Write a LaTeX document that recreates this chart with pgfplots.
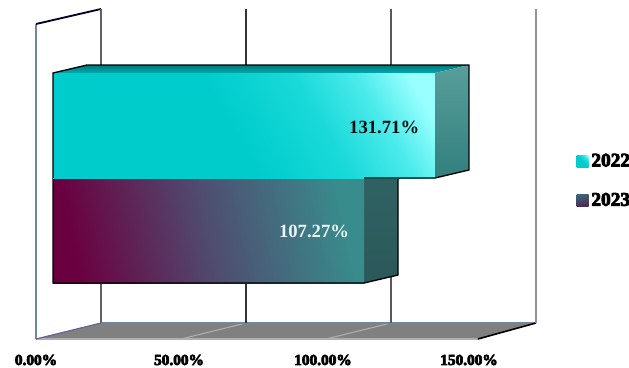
\documentclass[border=0pt]{standalone}
\usepackage{fontspec}
\usepackage{pgfplots}
\pgfplotsset{compat=1.18}
\newfontfamily\valfont{Liberation Serif Bold}
\newfontfamily\heavyfont[FakeBold=4.5]{Liberation Serif Bold}

% Face shadings for the two pseudo-3D bars
\pgfdeclarehorizontalshading{frontA}{100bp}{rgb(0bp)=(0,.80,.80);rgb(25bp)=(0,.80,.80);rgb(48bp)=(0,.80,.80);rgb(62bp)=(.10,.85,.85);rgb(72bp)=(.30,.92,.92);rgb(80bp)=(.60,1,1);rgb(100bp)=(.62,1,1)}
\pgfdeclarehorizontalshading{frontB}{100bp}{rgb(0bp)=(.42,0,.25);rgb(25bp)=(.42,0,.25);rgb(50bp)=(.31,.30,.44);rgb(75bp)=(.22,.55,.55);rgb(100bp)=(.22,.55,.55)}
\pgfdeclareverticalshading{topA}{100bp}{rgb(0bp)=(0,.78,.78);rgb(100bp)=(0,.36,.38)}
\pgfdeclareverticalshading{sideA}{100bp}{rgb(0bp)=(.12,.44,.44);rgb(100bp)=(.42,.68,.66)}
\pgfdeclareverticalshading{sideB}{100bp}{rgb(0bp)=(.16,.33,.34);rgb(100bp)=(.20,.40,.40)}
\pgfdeclareverticalshading{keyB}{100bp}{rgb(0bp)=(.32,.05,.25);rgb(100bp)=(.22,.50,.55)}

\definecolor{wallblue}{RGB}{110,135,165}
\definecolor{floorgray}{RGB}{128,128,128}
\definecolor{floorline}{RGB}{175,175,175}

\begin{document}
\begin{tikzpicture}
\begin{axis}[
  scale only axis, width=471.75pt, height=276pt,
  xmin=-18.276, xmax=198.62, ymin=0, ymax=368, y dir=reverse,
  axis line style={draw=none}, tick style={draw=none}, ytick=\empty,
  clip=false,
  xtick={-5.86,43.45,93.1,143.45},
  xticklabels={0.00\%,50.00\%,100.00\%,150.00\%},
  xticklabel pos=lower,
  xticklabel style={font=\heavyfont\fontsize{11.5}{12}\selectfont, anchor=center, yshift=6pt},
  legend style={at={(axis cs:180.6,151)}, anchor=north west, draw=none, fill=none,
    inner sep=0pt, outer sep=0pt, row sep=14.3pt,
    font=\heavyfont\fontsize{14.5}{14}\selectfont},
  legend cell align=left, reverse legend,
]
% floor and its depth lines
\addplot[forget plot, fill=floorgray, draw=none] coordinates {(-5.86,339)(16.55,323)(166.55,323)(146.5,339)} --cycle;
\addplot[forget plot, draw=floorline, line width=.8pt] coordinates {(-5.86,339)(146.5,339)};
\addplot[forget plot, draw=floorline, line width=.8pt] coordinates {(66.55,323)(44.14,339)};
\addplot[forget plot, draw=floorline, line width=.8pt] coordinates {(116.55,323)(94.14,339)};
% walls
\addplot[forget plot, draw=wallblue, line width=.8pt] coordinates {(-5.86,339)(-5.86,24)};
\addplot[forget plot, draw=wallblue, line width=1.2pt] coordinates {(16.55,323)(166.55,323)};
\addplot[forget plot, draw=black!70!blue!60!white, line width=.9pt] coordinates {(-5.86,339)(16.55,323)};
\addplot[forget plot, draw=black!85!blue, line width=1.4pt] coordinates {(-5.86,24)(16.55,9)};
\addplot[forget plot, draw=black, line width=1.2pt] coordinates {(146.5,339)(166.55,323)};
% value gridlines
\addplot[forget plot, draw=black!62, line width=1.9pt] coordinates {(16.55,9)(16.55,323)};
\addplot[forget plot, draw=black!80, line width=1.7pt] coordinates {(66.55,9)(66.55,323)};
\addplot[forget plot, draw=black!65, line width=1.7pt] coordinates {(116.55,9)(116.55,323)};
\addplot[forget plot, draw=black!42, line width=1.5pt] coordinates {(166.55,9)(166.55,323)};
% bar for 2023
\addplot[forget plot, shading=sideB, draw=none] coordinates {(107.27,178)(118.99,178)(118.99,275)(107.27,283)} --cycle;
\addplot[shading=frontB, shading angle=12, draw=none,
  legend image code/.code={\path[shading=keyB] (0pt,-4.5pt) rectangle (9pt,4.5pt);}]
  coordinates {(0,178)(107.27,178)(107.27,283)(0,283)} --cycle;
\addlegendentry{2023}
\addplot[forget plot, draw=black, line width=1pt] coordinates {(0,178)(0,283)(107.27,283)(118.99,275)(118.99,178)};
% bar for 2022
\addplot[forget plot, shading=topA, draw=none] coordinates {(0,73)(11.72,65)(143.43,65)(131.71,73)} --cycle;
\addplot[forget plot, shading=sideA, draw=none] coordinates {(131.71,73)(143.43,65)(143.43,170)(131.71,178)} --cycle;
\addplot[shading=frontA, shading angle=30, draw=none,
  legend image code/.code={\path[shading=frontA, shading angle=45] (0pt,-4.5pt) rectangle (9pt,4.5pt);}]
  coordinates {(0,73)(131.71,73)(131.71,178)(0,178)} --cycle;
\addlegendentry{2022}
\addplot[forget plot, draw=black, line width=1pt] coordinates {(0,178)(0,73)(11.72,65)(143.43,65)(143.43,170)(131.71,178)(107.27,178)};
% value labels
\node[font=\valfont\fontsize{14}{15}\selectfont, text=black!85!teal] at (axis cs:114.2,127.5) {131.71\%};
\node[font=\valfont\fontsize{14}{15}\selectfont, text=white!92!teal] at (axis cs:90,231.5) {107.27\%};
\end{axis}
% the page is exactly the axis rectangle
\pgfresetboundingbox
\path[use as bounding box] (0,0) rectangle (471.75pt,276pt);
\end{tikzpicture}
\end{document}
